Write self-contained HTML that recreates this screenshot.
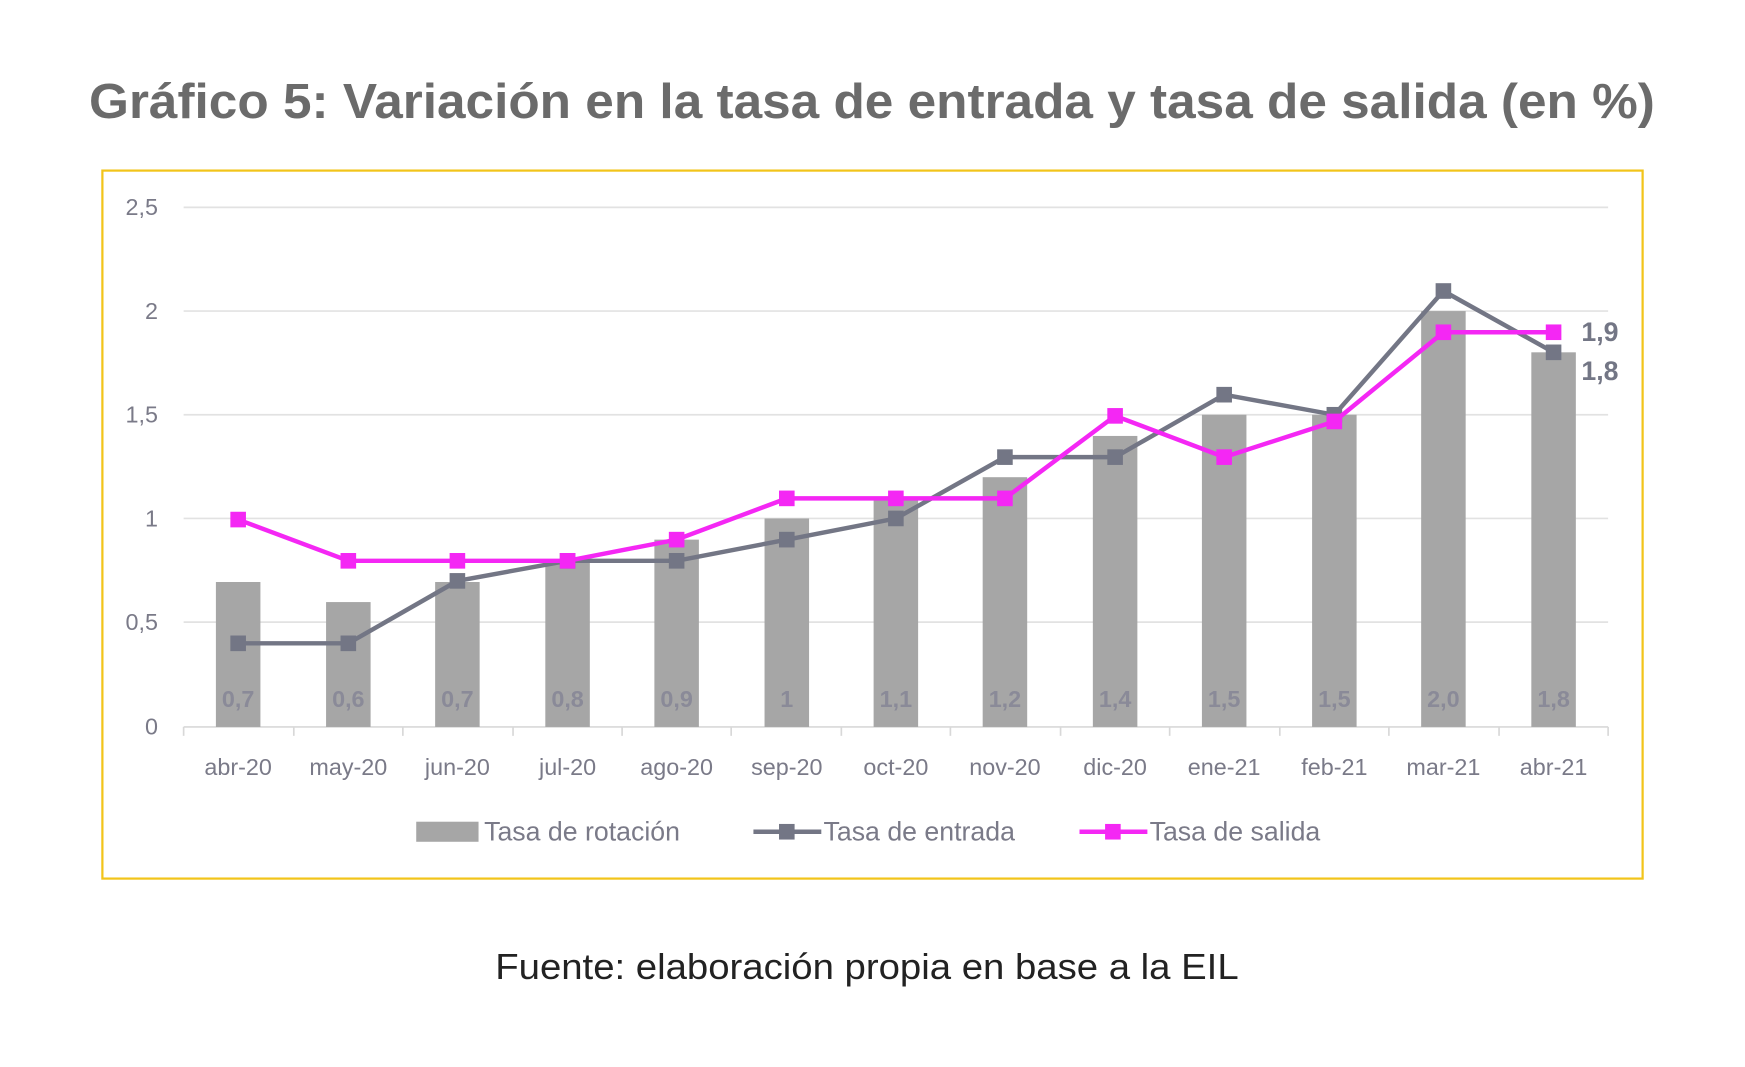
<!DOCTYPE html>
<html><head><meta charset="utf-8"><style>html,body{margin:0;padding:0;background:#fff;width:1745px;height:1067px;overflow:hidden}svg{display:block}</style></head>
<body>
<svg width="1745" height="1067" viewBox="0 0 1568 957" preserveAspectRatio="none" font-family="Liberation Sans, sans-serif">
<text x="80" y="106" font-size="44" font-weight="bold" fill="#6b6b6b" textLength="1407" lengthAdjust="spacingAndGlyphs">Gráfico 5:  Variación en la tasa de entrada y tasa de salida (en %)</text>
<rect x="92" y="153" width="1384" height="635" fill="none" stroke="#f2c41a" stroke-width="2"/>
<g stroke="#e2e2e2" stroke-width="1.5">
<line x1="165" x2="1445" y1="186" y2="186"/><line x1="165" x2="1445" y1="279" y2="279"/><line x1="165" x2="1445" y1="372" y2="372"/><line x1="165" x2="1445" y1="465" y2="465"/><line x1="165" x2="1445" y1="558" y2="558"/>
<line x1="165" x2="1445" y1="652" y2="652" stroke="#d8d8d8"/>
</g>
<g stroke="#d8d8d8" stroke-width="1.5">
<line x1="165" x2="165" y1="652" y2="660"/><line x1="264" x2="264" y1="652" y2="660"/><line x1="362" x2="362" y1="652" y2="660"/><line x1="461" x2="461" y1="652" y2="660"/><line x1="559" x2="559" y1="652" y2="660"/><line x1="657" x2="657" y1="652" y2="660"/><line x1="756" x2="756" y1="652" y2="660"/><line x1="854" x2="854" y1="652" y2="660"/><line x1="953" x2="953" y1="652" y2="660"/><line x1="1051" x2="1051" y1="652" y2="660"/><line x1="1150" x2="1150" y1="652" y2="660"/><line x1="1248" x2="1248" y1="652" y2="660"/><line x1="1347" x2="1347" y1="652" y2="660"/><line x1="1445" x2="1445" y1="652" y2="660"/>
</g>
<g font-size="21" fill="#7a7a88" text-anchor="end">
<text x="142" y="193">2,5</text><text x="142" y="286">2</text><text x="142" y="379">1,5</text><text x="142" y="472">1</text><text x="142" y="565">0,5</text><text x="142" y="659">0</text>
</g>
<g fill="#a6a6a6">
<rect x="194" y="522" width="40" height="130"/><rect x="293" y="540" width="40" height="112"/><rect x="391" y="522" width="40" height="130"/><rect x="490" y="503" width="40" height="149"/><rect x="588" y="484" width="40" height="168"/><rect x="687" y="465" width="40" height="187"/><rect x="785" y="447" width="40" height="205"/><rect x="883" y="428" width="40" height="224"/><rect x="982" y="391" width="40" height="261"/><rect x="1080" y="372" width="40" height="280"/><rect x="1179" y="372" width="40" height="280"/><rect x="1277" y="279" width="40" height="373"/><rect x="1376" y="316" width="40" height="336"/>
</g>
<g font-size="21" fill="#8a8a98" text-anchor="middle" font-weight="bold">
<text x="214" y="634">0,7</text><text x="313" y="634">0,6</text><text x="411" y="634">0,7</text><text x="510" y="634">0,8</text><text x="608" y="634">0,9</text><text x="707" y="634">1</text><text x="805" y="634">1,1</text><text x="903" y="634">1,2</text><text x="1002" y="634">1,4</text><text x="1100" y="634">1,5</text><text x="1199" y="634">1,5</text><text x="1297" y="634">2,0</text><text x="1396" y="634">1,8</text>
</g>
<polyline fill="none" stroke="#737685" stroke-width="4" points="214,577 313,577 411,521 510,503 608,503 707,484 805,465 903,410 1002,410 1100,354 1199,372 1297,261 1396,316"/>
<g fill="#737685">
<rect x="207" y="570" width="14" height="14"/><rect x="306" y="570" width="14" height="14"/><rect x="404" y="514" width="14" height="14"/><rect x="503" y="496" width="14" height="14"/><rect x="601" y="496" width="14" height="14"/><rect x="700" y="477" width="14" height="14"/><rect x="798" y="458" width="14" height="14"/><rect x="896" y="403" width="14" height="14"/><rect x="995" y="403" width="14" height="14"/><rect x="1093" y="347" width="14" height="14"/><rect x="1192" y="365" width="14" height="14"/><rect x="1290" y="254" width="14" height="14"/><rect x="1389" y="309" width="14" height="14"/>
</g>
<polyline fill="none" stroke="#f427f4" stroke-width="4" points="214,466 313,503 411,503 510,503 608,484 707,447 805,447 903,447 1002,373 1100,410 1199,378 1297,298 1396,298"/>
<g fill="#f427f4">
<rect x="207" y="459" width="14" height="14"/><rect x="306" y="496" width="14" height="14"/><rect x="404" y="496" width="14" height="14"/><rect x="503" y="496" width="14" height="14"/><rect x="601" y="477" width="14" height="14"/><rect x="700" y="440" width="14" height="14"/><rect x="798" y="440" width="14" height="14"/><rect x="896" y="440" width="14" height="14"/><rect x="995" y="366" width="14" height="14"/><rect x="1093" y="403" width="14" height="14"/><rect x="1192" y="371" width="14" height="14"/><rect x="1290" y="291" width="14" height="14"/><rect x="1389" y="291" width="14" height="14"/>
</g>
<g font-size="24" font-weight="bold" fill="#737685"><text x="1421" y="306">1,9</text><text x="1421" y="341">1,8</text></g>
<g font-size="21" fill="#7a7a88" text-anchor="middle">
<text x="214" y="695">abr-20</text><text x="313" y="695">may-20</text><text x="411" y="695">jun-20</text><text x="510" y="695">jul-20</text><text x="608" y="695">ago-20</text><text x="707" y="695">sep-20</text><text x="805" y="695">oct-20</text><text x="903" y="695">nov-20</text><text x="1002" y="695">dic-20</text><text x="1100" y="695">ene-21</text><text x="1199" y="695">feb-21</text><text x="1297" y="695">mar-21</text><text x="1396" y="695">abr-21</text>
</g>
<rect x="374" y="737" width="56" height="18" fill="#a6a6a6"/>
<line x1="677" x2="738" y1="746" y2="746" stroke="#737685" stroke-width="4"/><rect x="700" y="739" width="14" height="14" fill="#737685"/>
<line x1="970" x2="1031" y1="746" y2="746" stroke="#f427f4" stroke-width="4"/><rect x="993" y="739" width="14" height="14" fill="#f427f4"/>
<g font-size="24" fill="#7a7a88">
<text x="435" y="754">Tasa de rotación</text><text x="740" y="754">Tasa de entrada</text><text x="1033" y="754">Tasa de salida</text>
</g>
<text x="445" y="878" font-size="32" fill="#222" textLength="668" lengthAdjust="spacingAndGlyphs">Fuente: elaboración propia en base a la EIL</text>
</svg>
</body></html>
